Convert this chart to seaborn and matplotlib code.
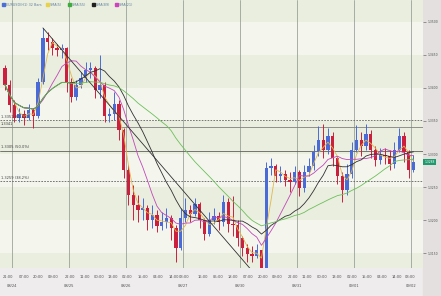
import numpy as np
import pandas as pd
import matplotlib
matplotlib.use("Agg")
import matplotlib.pyplot as plt
import matplotlib.patches as mpatches
import seaborn as sns

# ---- data (2-hour candles, EUR/USD) ----
first_open = 1.3430
close = [1.3405, 1.3374, 1.3355, 1.3361, 1.3355, 1.3367, 1.3358, 1.3409, 1.3476, 1.3470,
         1.3461, 1.3458, 1.3461, 1.3409, 1.3386, 1.3405, 1.3415, 1.3427, 1.3430, 1.3397,
         1.3405, 1.3358, 1.3361, 1.3376, 1.3336, 1.3276, 1.3238, 1.3223, 1.3215, 1.3218,
         1.3200, 1.3208, 1.3191, 1.3197, 1.3203, 1.3188, 1.3158, 1.3203, 1.3215, 1.3209,
         1.3224, 1.3200, 1.3179, 1.3200, 1.3206, 1.3197, 1.3227, 1.3194, 1.3192, 1.3173,
         1.3158, 1.3149, 1.3145, 1.3155, 1.3127, 1.3279, 1.3282, 1.3267, 1.3270, 1.3261,
         1.3258, 1.3273, 1.3249, 1.3273, 1.3282, 1.3303, 1.3321, 1.3306, 1.3327, 1.3294,
         1.3267, 1.3245, 1.3270, 1.3306, 1.3321, 1.3312, 1.3330, 1.3306, 1.3291, 1.3298,
         1.3297, 1.3285, 1.3306, 1.3327, 1.3303, 1.3276, 1.3288]
high = [1.3435, 1.3412, 1.3382, 1.3370, 1.3367, 1.3376, 1.3370, 1.3415, 1.3491, 1.3485,
        1.3476, 1.3467, 1.3467, 1.3462, 1.3415, 1.3412, 1.3424, 1.3439, 1.3439, 1.3433,
        1.3450, 1.3409, 1.3370, 1.3394, 1.3382, 1.3339, 1.3283, 1.3253, 1.3238, 1.3233,
        1.3223, 1.3223, 1.3215, 1.3212, 1.3218, 1.3208, 1.3192, 1.3218, 1.3233, 1.3223,
        1.3233, 1.3227, 1.3203, 1.3212, 1.3218, 1.3212, 1.3238, 1.3233, 1.3236, 1.3200,
        1.3176, 1.3164, 1.3161, 1.3164, 1.3155, 1.3288, 1.3294, 1.3285, 1.3282, 1.3276,
        1.3273, 1.3282, 1.3276, 1.3283, 1.3294, 1.3314, 1.3342, 1.3345, 1.3339, 1.3333,
        1.3297, 1.3273, 1.3285, 1.3318, 1.3344, 1.3333, 1.3345, 1.3336, 1.3312, 1.3309,
        1.3309, 1.3306, 1.3318, 1.3339, 1.3333, 1.3306, 1.3298]
low = [1.3397, 1.3364, 1.3348, 1.3348, 1.3344, 1.3352, 1.3339, 1.3355, 1.3406, 1.3458,
       1.3450, 1.3448, 1.3445, 1.3394, 1.3379, 1.3382, 1.3400, 1.3409, 1.3415, 1.3385,
       1.3385, 1.3348, 1.3348, 1.3352, 1.3321, 1.3264, 1.3223, 1.3200, 1.3197, 1.3200,
       1.3185, 1.3188, 1.3182, 1.3185, 1.3188, 1.3170, 1.3136, 1.3155, 1.3197, 1.3197,
       1.3206, 1.3188, 1.3170, 1.3176, 1.3194, 1.3185, 1.3191, 1.3182, 1.3176, 1.3161,
       1.3145, 1.3136, 1.3136, 1.3142, 1.3115, 1.3124, 1.3268, 1.3258, 1.3258, 1.3252,
       1.3242, 1.3255, 1.3236, 1.3242, 1.3267, 1.3276, 1.3297, 1.3294, 1.3300, 1.3282,
       1.3255, 1.3227, 1.3238, 1.3264, 1.3303, 1.3297, 1.3306, 1.3294, 1.3282, 1.3285,
       1.3285, 1.3276, 1.3279, 1.3303, 1.3288, 1.3264, 1.3273]

ma_windows = [3, 8, 14, 28]
ma_colors = ["#e0b84c", "#c048b8", "#303030", "#6cbf5a"]
legend_labels = ["EURUSD(H1) 32 Bars", "SMA(5)", "SMA(55)", "SMA(89)", "SMA(21)"]
legend_colors = ["#4a6fd8", "#e8d24a", "#3cae3c", "#202020", "#d040c0"]

fib_prices = [1.3351, 1.3305, 1.3259]
fib_labels = ["1.3351 (61.8%)", "1.3305 (50.0%)", "1.3259 (38.2%)"]
fib_styles = ["--", "-", "--"]
level_price = 1.3341
level_label = "1.3341"

trend_x = [8.0, 54.3]
trend_y = [1.3491, 1.3104]

day_sep = [1.5, 13.5, 25.5, 37.5, 49.5, 61.5, 73.5, 85.5]
day_labels = ["08/24", "08/25", "08/26", "08/27", "08/30", "08/31", "09/01", "09/02"]
tick_pos = [0.7, 4.0, 7.0, 10.1, 13.7, 16.9, 19.8, 22.8, 25.7, 29.1, 32.2, 35.6, 37.7,
            41.7, 44.9, 48.0, 51.2, 54.3, 57.3, 60.7, 63.6, 66.8, 69.9, 73.1, 76.2,
            79.4, 82.6, 85.3]
tick_labels = ["21:00", "07:00", "20:00", "09:00", "22:00", "11:00", "00:00", "13:00",
               "02:00", "15:00", "04:00", "14:00", "03:00", "16:00", "05:00", "18:00",
               "07:00", "20:00", "09:00", "22:00", "11:00", "00:00", "13:00", "02:00",
               "15:00", "04:00", "14:00", "03:00"]
price_ticks = [1.3150, 1.3200, 1.3250, 1.3300, 1.3350, 1.3400, 1.3450, 1.3500]

# ---- build frame ----
n = len(close)
idx = np.arange(n)
opens = [first_open] + close[:-1]
df = pd.DataFrame({"i": idx, "open": opens, "close": close, "high": high, "low": low})

sns.set_theme(style="white")
plt.rcParams["font.family"] = ["DejaVu Sans"]

fig = plt.figure(figsize=(4.41, 2.96), dpi=100, facecolor="#eeecec")
W, H = 441, 296
ax = fig.add_axes([0, 28 / H, 423 / W, 268 / H])
ax.set_facecolor("#f4f6ee")
ymax, ymin = 1.35333, 1.31273
ax.set_ylim(ymin, ymax)
ax.set_xlim(-1.03, 88.0)

# background bands
edges = [ymin] + price_ticks + [ymax]
for k in range(len(edges) - 1):
    col = "#eaeedf" if k % 2 == 0 else "#f4f6ee"
    ax.axhspan(edges[k], edges[k + 1], color=col, lw=0, zorder=0)

# day separators
for d in day_sep:
    ax.axvline(d, color="#9aa39a", lw=0.6, zorder=1)

# fib levels
for p, lab, ls in zip(fib_prices, fib_labels, fib_styles):
    ax.axhline(p, color="#606060", lw=0.6, ls=ls, dashes=(2, 1.5) if ls == "--" else (None, None), zorder=1)
    ax.text(-0.8, p + 0.0002, lab, fontsize=2.6, color="#404040", va="bottom", ha="left", zorder=6)
ax.axhline(level_price, color="#808080", lw=0.6, zorder=1)
ax.text(-0.8, level_price + 0.0001, level_label, fontsize=2.6, color="#404040", va="bottom", ha="left", zorder=6)

# candles
up = df["close"] >= df["open"]
cols = np.where(up, "#4a6ad8", "#cc1f3e")
ax.vlines(df["i"], df["low"], df["high"], colors=cols, lw=0.7, zorder=3)
ax.bar(df["i"], (df["close"] - df["open"]).abs().clip(lower=0.00008),
       bottom=np.minimum(df["open"], df["close"]), width=0.7, color=cols, lw=0, zorder=3)

# moving averages
for w, c in zip(ma_windows, ma_colors):
    ma = df["close"].rolling(w, min_periods=1).mean()
    sns.lineplot(x=df["i"], y=ma, ax=ax, color=c, lw=0.6, zorder=4)

# trend line
ax.plot(trend_x, trend_y, color="#303030", lw=0.6, zorder=4)

# axes formatting
for s in ax.spines.values():
    s.set_visible(False)
ax.yaxis.tick_right()
ax.set_yticks(price_ticks)
ax.set_yticklabels([f"{p:.4f}" for p in price_ticks], fontsize=2.2, color="#505050")
ax.tick_params(axis="y", length=2, width=0.4, color="#505050", pad=1.2)
ax.set_xticks(tick_pos)
ax.set_xticklabels(tick_labels, fontsize=2.6, color="#505050")
ax.tick_params(axis="x", length=2, width=0.4, color="#505050", pad=3)
ax.set_xlabel("")
ax.set_ylabel("")
for d, lab in zip(day_sep, day_labels):
    ax.text(d, ymin - 0.0024, lab, fontsize=2.6, color="#505050", ha="center", va="top")

# right panel
fig.patches.append(mpatches.Rectangle((423 / W, 0), 1 - 423 / W, 1, transform=fig.transFigure,
                                      color="#e4e0e0", zorder=-1))

# current price tag
last = close[-1]
ax.text(1.003, last, f"{last:.4f}", transform=ax.get_yaxis_transform(), fontsize=2.2,
        color="white", va="center", ha="left",
        bbox=dict(boxstyle="square,pad=0.35", fc="#1f9a6e", ec="none"), zorder=7, clip_on=False)

# legend
xpos = [2, 46, 68, 92, 115]
for x0, lab, c in zip(xpos, legend_labels, legend_colors):
    fig.patches.append(mpatches.Rectangle((x0 / W, 1 - 6 / H), 3 / W, 3 / H, transform=fig.transFigure,
                                          color=c, zorder=10))
    fig.text((x0 + 4) / W, 1 - 4.5 / H, lab, fontsize=2.4, color="#6080a0", va="center", ha="left")

fig.savefig("out.png", dpi=100, facecolor=fig.get_facecolor())
